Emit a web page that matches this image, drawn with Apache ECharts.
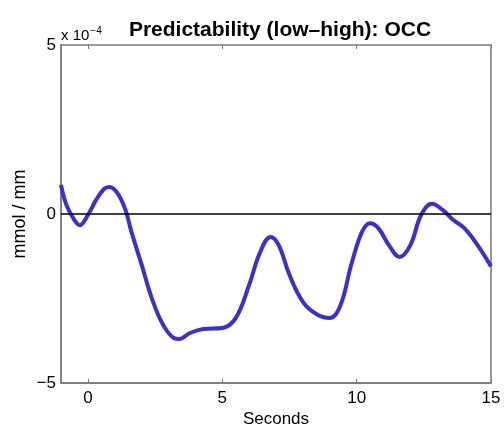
<!DOCTYPE html>
<html>
<head>
<meta charset="utf-8">
<script src="https://cdn.jsdelivr.net/npm/echarts@6/dist/echarts.min.js"></script>
<style>
html, body { margin: 0; padding: 0; background: #fff; }
#chart { width: 504px; height: 427px; }
</style>
</head>
<body>
<div id="chart"></div>
<script>
// time in seconds, values in units of 1e-4 mmol/mm
var seconds = [-1, -0.8, -0.5, -0.3, 0, 0.3, 0.6, 0.8, 1.1, 1.4, 1.6, 2.0, 2.4, 2.8, 3.2, 3.4, 3.8, 4.3, 5.0, 5.5,
    6.0, 6.4, 6.8, 7.1, 7.5, 8.0, 8.5, 9.0, 9.4, 9.8, 10.2, 10.5, 10.8, 11.2, 11.6, 12.0, 12.4, 12.8, 13.2, 13.6,
    14.0, 14.5, 15];
var occ = [0.86, 0.27, -0.18, -0.33, -0.03, 0.41, 0.74, 0.8, 0.62, 0.12, -0.47, -1.5, -2.54, -3.28, -3.67, -3.7, -3.52, -3.4, -3.37, -3.08,
    -2.1, -1.15, -0.68, -0.92, -1.8, -2.6, -2.96, -3.08, -2.7, -1.5, -0.53, -0.27, -0.41, -0.92, -1.27, -0.92, -0.03, 0.3, 0.12, -0.18,
    -0.41, -0.92, -1.55];
var xTicks = [0, 5, 10, 15];
var yTicks = [-5, 0, 5];

var chart = echarts.init(document.getElementById('chart'));
var font = 'Liberation Sans, Arial, Helvetica, sans-serif';
var axisGray = '#7a7a7a';

chart.setOption({
    animation: false,
    title: {
        text: 'Predictability (low\u2013high): OCC',
        left: 275,
        textAlign: 'center',
        top: 15,
        textStyle: { fontFamily: font, fontSize: 21, fontWeight: 'bold', color: '#000' }
    },
    graphic: [{
        type: 'text',
        left: 61,
        top: 26,
        style: {
            text: '{a|x 10}{b|\u22124}',
            rich: {
                a: { fontFamily: font, fontSize: 15, color: '#000' },
                b: { fontFamily: font, fontSize: 10, color: '#000', verticalAlign: 'top', padding: [0, 0, 9, 1] }
            }
        }
    }],
    grid: {
        left: 61, right: 13, top: 45, bottom: 44,
        outerBoundsMode: 'none',
        containLabel: false,
        show: true, borderColor: axisGray, borderWidth: 1.5, backgroundColor: '#fff'
    },
    xAxis: [{
        type: 'value',
        min: -1, max: 15,
        name: 'Seconds',
        nameLocation: 'middle',
        nameGap: 28,
        nameMoveOverlap: false,
        nameTextStyle: { fontFamily: font, fontSize: 17, color: '#000' },
        axisLine: { show: true, onZero: false, lineStyle: { color: axisGray, width: 1.5 } },
        axisTick: { show: true, inside: true, length: 4, customValues: xTicks, lineStyle: { color: axisGray } },
        axisLabel: { customValues: xTicks, fontFamily: font, fontSize: 17, color: '#000', margin: 7 },
        splitLine: { show: false }
    }, {
        type: 'value',
        position: 'top',
        min: -1, max: 15,
        axisLine: { show: false, onZero: false },
        axisTick: { show: true, inside: true, length: 4, customValues: xTicks, lineStyle: { color: axisGray } },
        axisLabel: { show: false },
        splitLine: { show: false }
    }],
    yAxis: [{
        type: 'value',
        min: -5, max: 5, interval: 5,
        name: 'mmol / mm',
        nameLocation: 'middle',
        nameGap: 32,
        nameMoveOverlap: false,
        nameTextStyle: { fontFamily: font, fontSize: 18, color: '#000' },
        axisLine: { show: true, onZero: false, lineStyle: { color: axisGray, width: 1.5 } },
        axisTick: { show: false },
        axisLabel: {
            fontFamily: font, fontSize: 17, color: '#000', margin: 5,
            formatter: function (v) { return v < 0 ? '\u2212' + Math.abs(v) : String(v); }
        },
        splitLine: { show: false }
    }],
    series: [{
        type: 'line',
        data: seconds.map(function (s, i) { return [s, occ[i]]; }),
        smooth: 0.4,
        symbol: 'none',
        lineStyle: { color: '#3a2ed6', width: 4 },
        markLine: {
            silent: true,
            symbol: 'none',
            label: { show: false },
            lineStyle: { color: '#000', width: 1.5, type: 'solid' },
            data: [{ yAxis: 0 }]
        },
        z: 3
    }]
});
</script>
</body>
</html>
